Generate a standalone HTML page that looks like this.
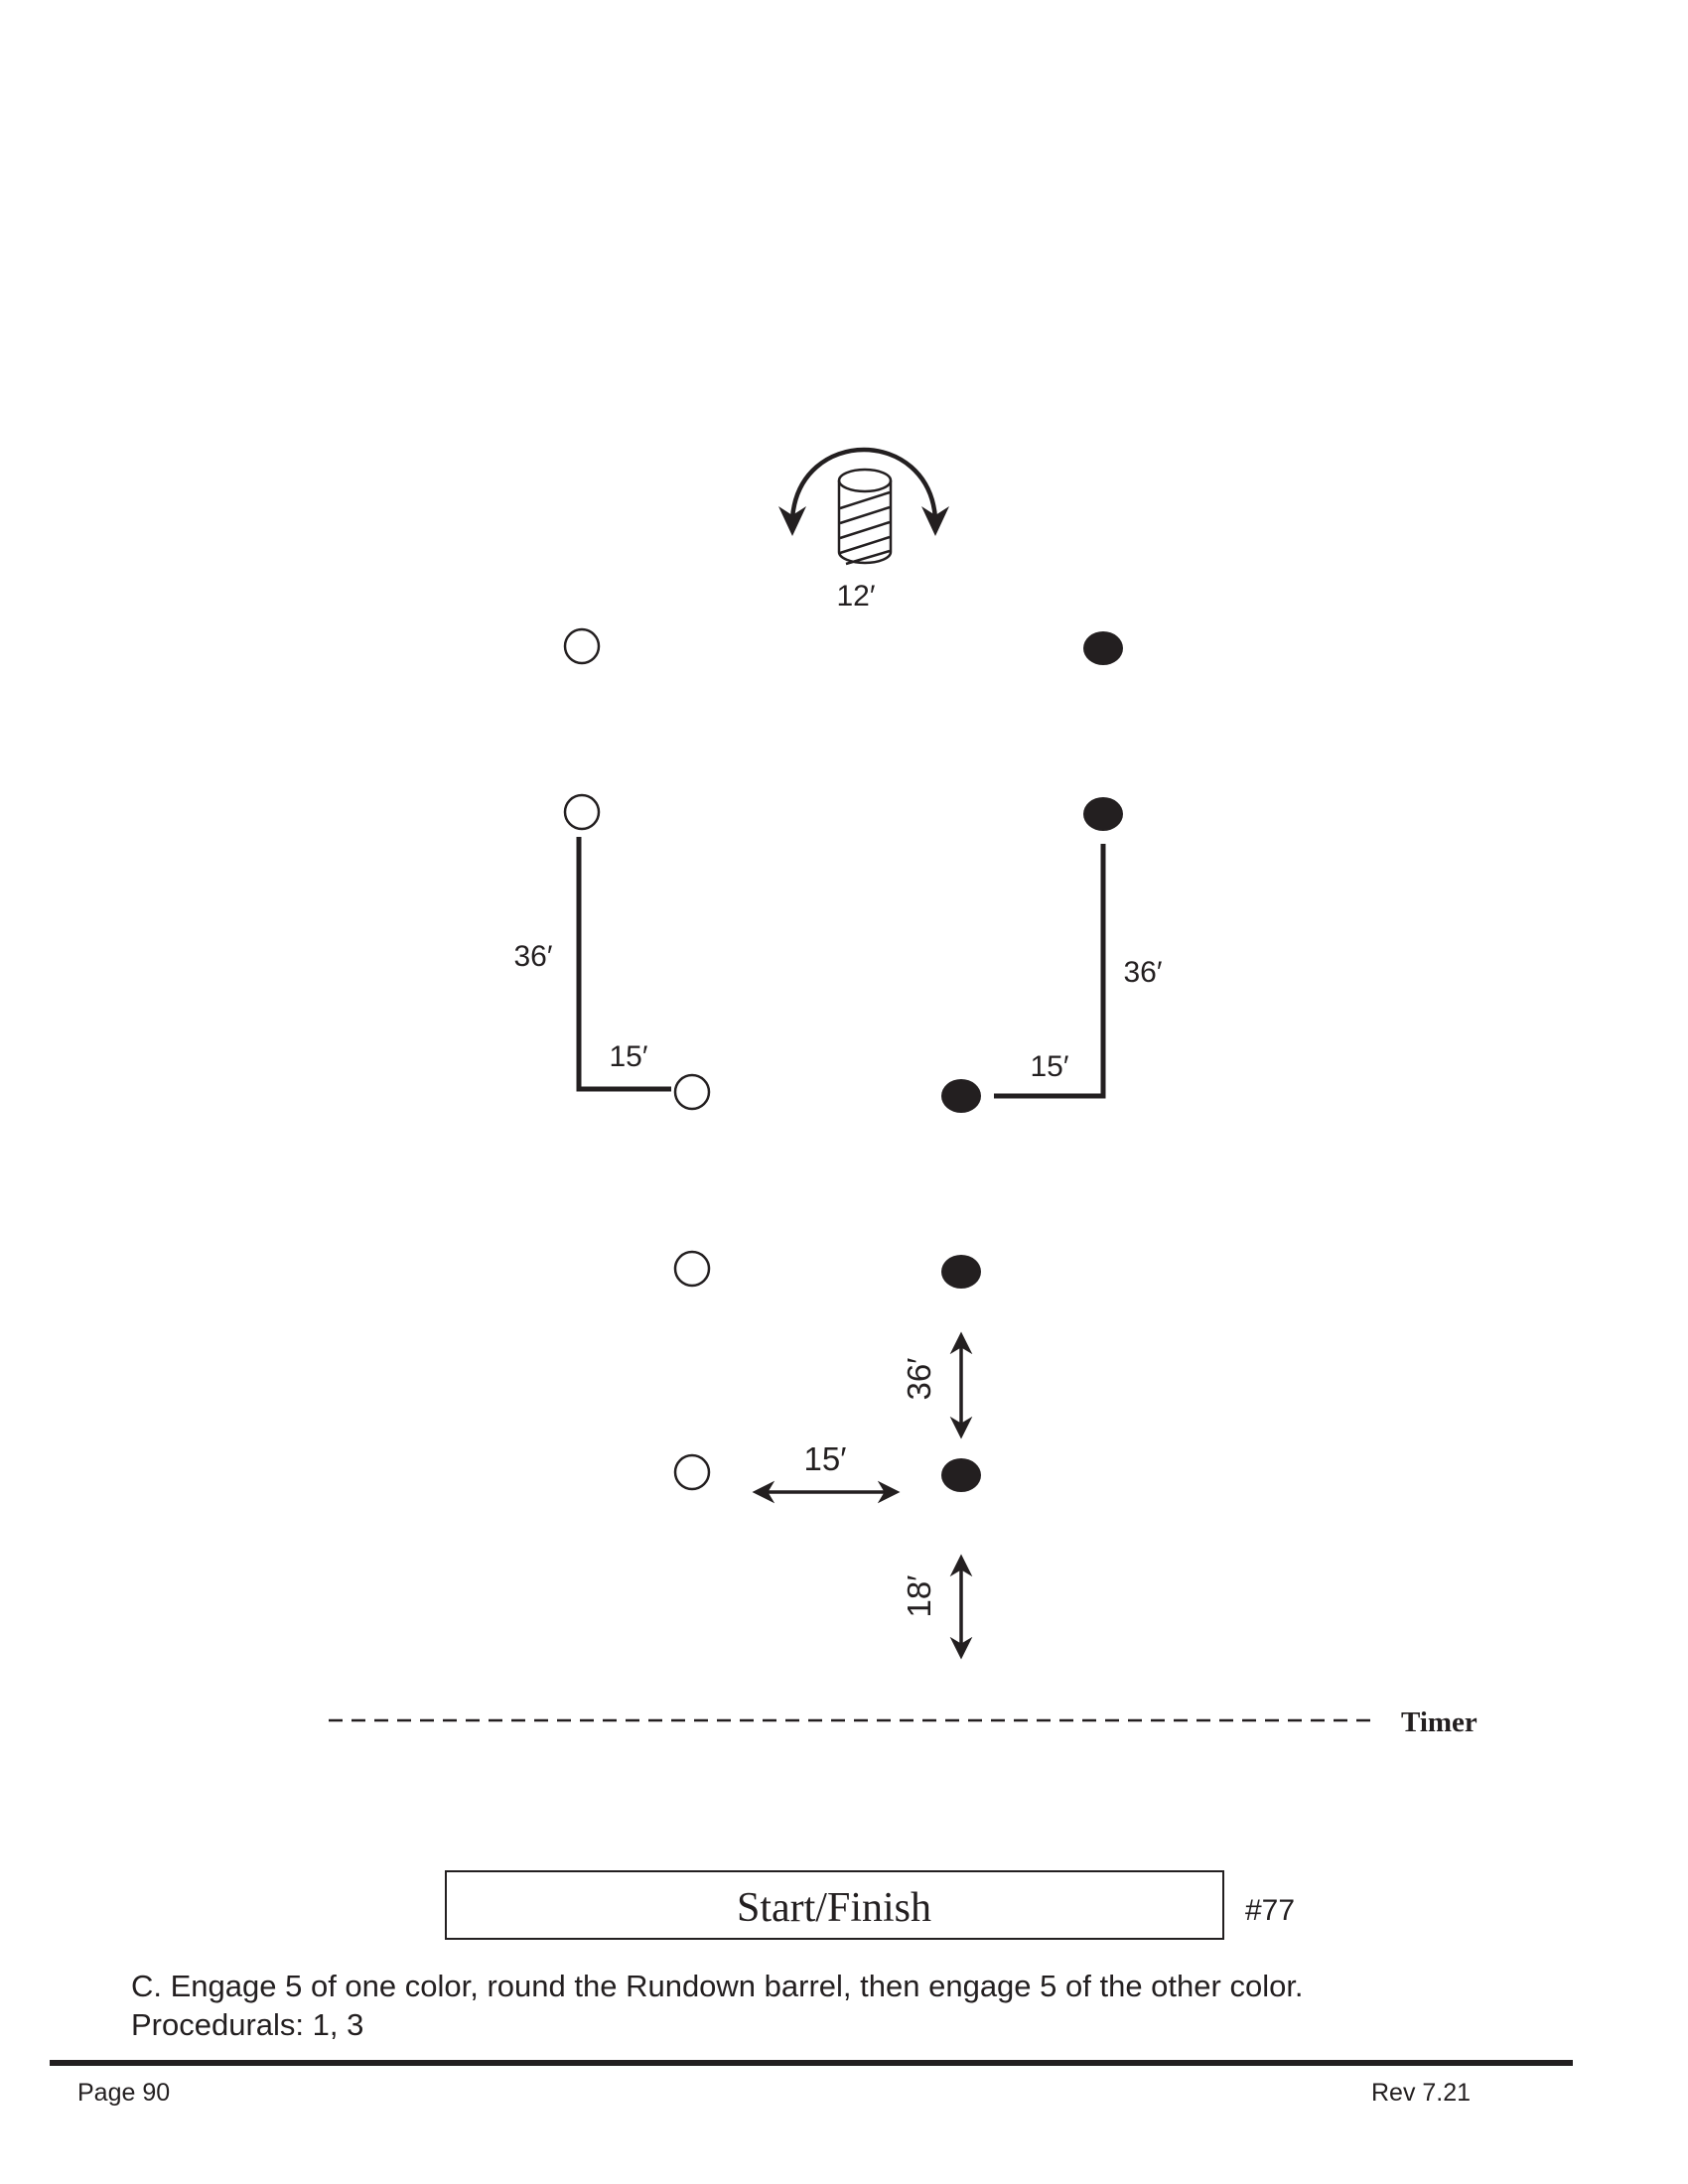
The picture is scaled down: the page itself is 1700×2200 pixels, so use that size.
<!DOCTYPE html>
<html><head><meta charset="utf-8"><style>
html,body{margin:0;padding:0;background:#fff;}
svg{display:block;}
</style></head><body>
<svg width="1700" height="2200" viewBox="0 0 1700 2200" xmlns="http://www.w3.org/2000/svg">
<defs>
<marker id="ah" viewBox="0 0 10 10" refX="8" refY="5" markerWidth="6.5" markerHeight="6.5" orient="auto-start-reverse">
<path d="M0,0 L10,5 L0,10 L3,5 Z" fill="#231f20"/>
</marker>
</defs>
<g fill="none" stroke="#231f20">
<path d="M798,522 C805,430 935,430 942,522" stroke-width="4.5"/>
<path d="M784,510 L798,540 L812,510 L798,519 Z" fill="#231f20" stroke="none"/>
<path d="M928,510 L942,540 L956,510 L942,519 Z" fill="#231f20" stroke="none"/>
<path d="M845,484 L845,556 A26,11 0 0 0 897,556 L897,484" stroke-width="2.5"/>
<ellipse cx="871" cy="484" rx="26" ry="11" stroke-width="2.5"/>
<path d="M846,512 L896,496 M846,527 L896,511 M846,542 L896,526 M846,557 L896,541 M852,568 L896,555" stroke-width="2.5"/>
<g stroke-width="2.5">
<circle cx="586" cy="651" r="17"/>
<circle cx="586" cy="818" r="17"/>
<circle cx="697" cy="1100" r="17"/>
<circle cx="697" cy="1278" r="17"/>
<circle cx="697" cy="1483" r="17"/>
</g>
<path d="M583,843 L583,1097 L676,1097" stroke-width="5"/>
<path d="M1111,850 L1111,1104 L1001,1104" stroke-width="5"/>
<line x1="968" y1="1346" x2="968" y2="1445" stroke-width="3.5" marker-start="url(#ah)" marker-end="url(#ah)"/>
<line x1="762" y1="1503" x2="902" y2="1503" stroke-width="3.5" marker-start="url(#ah)" marker-end="url(#ah)"/>
<line x1="968" y1="1570" x2="968" y2="1667" stroke-width="3.5" marker-start="url(#ah)" marker-end="url(#ah)"/>
<line x1="331" y1="1733" x2="1389" y2="1733" stroke-width="2.5" stroke-dasharray="14,9"/>
<rect x="449" y="1885" width="783" height="68" stroke-width="2"/>
<line x1="50" y1="2078" x2="1584" y2="2078" stroke-width="6"/>
</g>
<g fill="#231f20">
<ellipse cx="1111" cy="653" rx="20" ry="17"/>
<ellipse cx="1111" cy="820" rx="20" ry="17"/>
<ellipse cx="968" cy="1104" rx="20" ry="17"/>
<ellipse cx="968" cy="1281" rx="20" ry="17"/>
<ellipse cx="968" cy="1486" rx="20" ry="17"/>
</g>
<g font-family="Liberation Sans, sans-serif" font-size="30" fill="#231f20">
<text x="862" y="610" text-anchor="middle">12′</text>
<text x="537" y="973" text-anchor="middle">36′</text>
<text x="633" y="1074" text-anchor="middle">15′</text>
<text x="1151" y="989" text-anchor="middle">36′</text>
<text x="1057" y="1084" text-anchor="middle">15′</text>
<text x="831" y="1481" text-anchor="middle" font-size="33">15′</text>
<text transform="translate(937,1389) rotate(-90)" text-anchor="middle" font-size="33">36′</text>
<text transform="translate(937,1608) rotate(-90)" text-anchor="middle" font-size="33">18′</text>
<text x="1254" y="1934">#77</text>
<text x="132" y="2011" font-size="31">C. Engage 5 of one color, round the Rundown barrel, then engage 5 of the other color.</text>
<text x="132" y="2050" font-size="31">Procedurals: 1, 3</text>
<text x="78" y="2116" font-size="25">Page 90</text>
<text x="1381" y="2116" font-size="25">Rev 7.21</text>
</g>
<g font-family="Liberation Serif, serif" fill="#231f20">
<text x="1411" y="1744" font-size="29" font-weight="bold">Timer</text>
<text x="840" y="1935" font-size="42" text-anchor="middle">Start/Finish</text>
</g>
</svg>
</body></html>
